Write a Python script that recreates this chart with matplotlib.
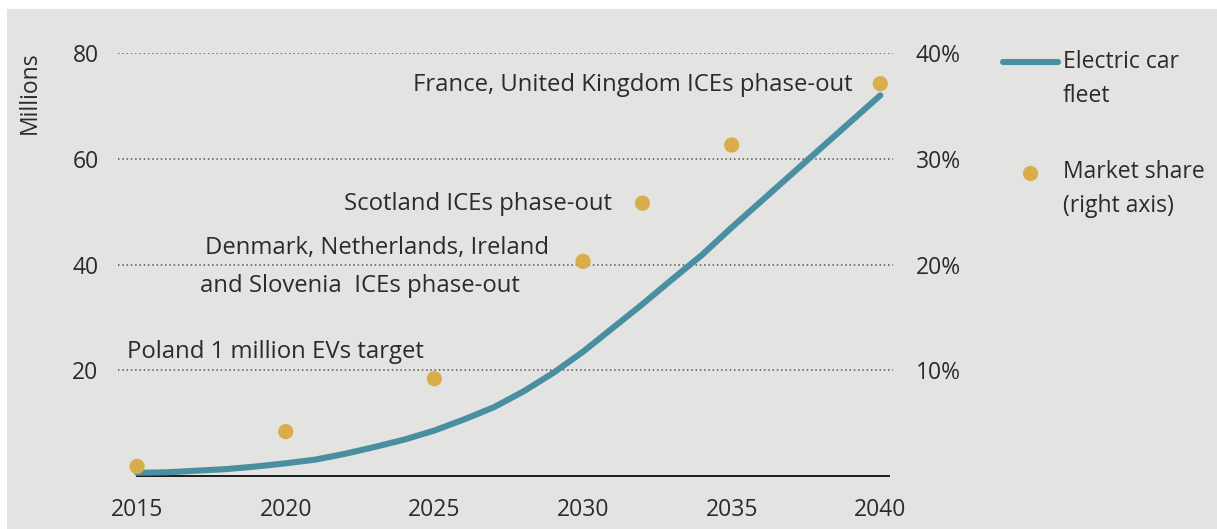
import matplotlib.pyplot as plt
from matplotlib.lines import Line2D
from matplotlib.patches import Rectangle

plt.rcParams['font.family'] = ['Open Sans', 'DejaVu Sans']

# electric car fleet, millions (left axis)
fleet_years = list(range(2015, 2041))
fleet_mn = [0.6, 0.7, 1.0, 1.3, 1.8, 2.4, 3.1, 4.2, 5.5, 6.9, 8.6, 10.7, 13.0,
            16.0, 19.5, 23.5, 28.0, 32.5, 37.2, 41.8, 47.0, 52.0, 57.0, 62.0,
            67.0, 72.0]

# market share of new sales, % (right axis)
share_years = [2015, 2020, 2025, 2030, 2032, 2035, 2040]
share_pct = [0.9, 4.2, 9.2, 20.3, 25.8, 31.3, 37.1]

x_ticks = [2015, 2020, 2025, 2030, 2035, 2040]
left_ticks = [20, 40, 60, 80]
right_ticks = [10, 20, 30, 40]

notes = [
    'France, United Kingdom ICEs phase-out',
    'Scotland ICEs phase-out',
    'Denmark, Netherlands, Ireland',
    'and Slovenia  ICEs phase-out',
    'Poland 1 million EVs target',
]

TEAL = '#4a8ea1'
GOLD = '#d8ae4a'
INK = '#2b2b2b'
GRID = '#555555'
FS = 16.5       # ticks and legend
FS_NOTE = 17.2  # milestone labels

fig = plt.figure(figsize=(12.17, 5.29), dpi=100)
fig.patch.set_facecolor('white')
fig.add_artist(Rectangle((7 / 1217, 0), 1, 1 - 9 / 529, transform=fig.transFigure,
                         facecolor='#e3e3e1', edgecolor='none', zorder=-10))

ax = fig.add_axes([0.097, 0.1002, 0.6371, 0.7996])
ax.patch.set_alpha(0)
ax.set_xlim(2014.36, 2040.44)
ax.set_ylim(0, 80)

for v in left_ticks:
    ax.axhline(v, color=GRID, lw=1.1, ls=(0, (1, 1.8)), zorder=1)

ax.plot(fleet_years, fleet_mn, color=TEAL, lw=4.4, solid_capstyle='round',
        solid_joinstyle='round', zorder=3, clip_on=False)

for s in ['top', 'left', 'right']:
    ax.spines[s].set_visible(False)
ax.spines['bottom'].set_bounds(2015, 2040.3)
ax.spines['bottom'].set_color('#1a1a1a')
ax.spines['bottom'].set_linewidth(1.4)

ax.set_xticks(x_ticks)
ax.set_yticks(left_ticks)
ax.tick_params(axis='x', length=0, pad=16, labelsize=FS, labelcolor=INK)
ax.tick_params(axis='y', length=0, pad=14, labelsize=FS, labelcolor=INK)

ax2 = ax.twinx()
ax2.set_ylim(0, 40)
ax2.scatter(share_years, share_pct, s=120, color=GOLD, edgecolors='none',
            zorder=4, clip_on=False)
for s in ['top', 'left', 'right', 'bottom']:
    ax2.spines[s].set_visible(False)
ax2.set_yticks(right_ticks)
ax2.set_yticklabels([f'{t}%' for t in right_ticks])
ax2.tick_params(axis='y', length=0, pad=16, labelsize=FS, labelcolor=INK)

# policy milestones
ax.text(2039.06, 72.8, notes[0], ha='right', va='baseline', fontsize=FS_NOTE, color=INK)
ax.text(2030.98, 50.3, notes[1], ha='right', va='baseline', fontsize=FS_NOTE, color=INK)
ax.text(2017.29, 41.9, notes[2], ha='left', va='baseline', fontsize=FS_NOTE, color=INK)
ax.text(2017.12, 34.8, notes[3], ha='left', va='baseline', fontsize=FS_NOTE, color=INK)
ax.text(2014.66, 22.3, notes[4], ha='left', va='baseline', fontsize=FS_NOTE, color=INK)

fig.text(30 / 1217, 1 - 93 / 529, 'Millions', rotation=90, ha='center', va='center',
         fontsize=FS, color=INK)

# legend drawn beside the plot
fig.add_artist(Line2D([1003 / 1217, 1058 / 1217], [1 - 62 / 529] * 2, color=TEAL,
                      lw=4.4, solid_capstyle='round', transform=fig.transFigure))
fig.add_artist(Line2D([1030 / 1217], [1 - 173 / 529], marker='o', ms=11,
                      color=GOLD, mec='none', transform=fig.transFigure))
fig.text(1063 / 1217, 1 - 50 / 529, 'Electric car\nfleet', ha='left', va='top',
         fontsize=FS, color=INK, linespacing=1.58)
fig.text(1063 / 1217, 1 - 160 / 529, 'Market share\n(right axis)', ha='left', va='top',
         fontsize=FS, color=INK, linespacing=1.58)

fig.savefig('out.png', dpi=100)
